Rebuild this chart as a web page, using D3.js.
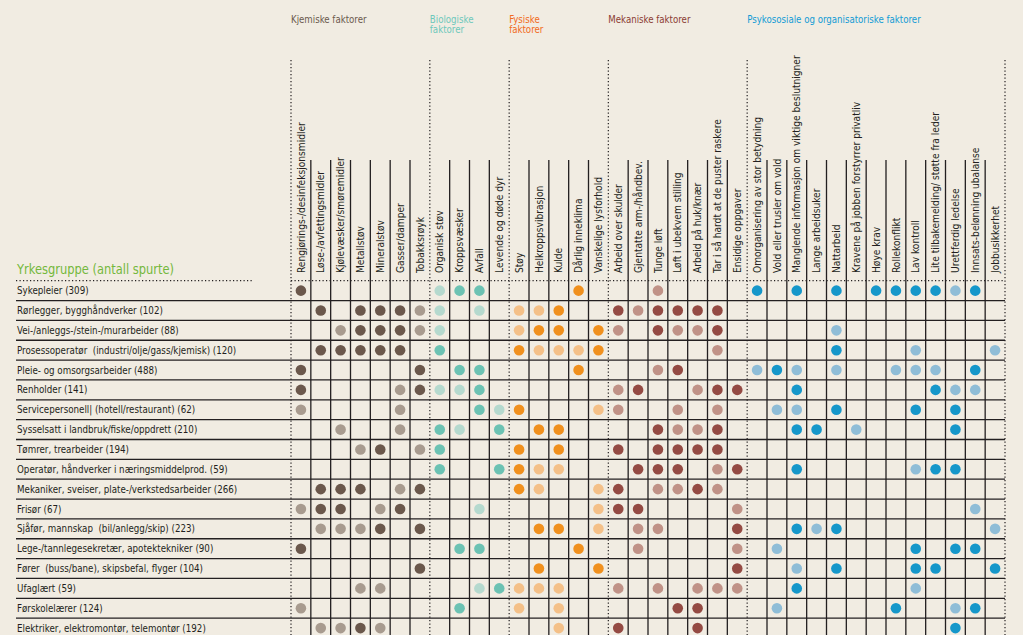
<!DOCTYPE html>
<html><head><meta charset="utf-8">
<script src="https://cdn.jsdelivr.net/npm/d3@7"></script>
<style>
body{margin:0;background:#f1ece2;}
svg{display:block;font-family:"Liberation Sans Narrow","DejaVu Sans Condensed","Noto Sans",sans-serif;}
</style>
</head><body>
<svg id="c" width="1023" height="635"></svg>
<script>
// ---------- DATA ----------
const occupations = [
  "Sykepleier (309)",
  "Rørlegger, bygghåndverker (102)",
  "Vei-/anleggs-/stein-/murarbeider (88)",
  "Prosessoperatør  (industri/olje/gass/kjemisk) (120)",
  "Pleie- og omsorgsarbeider (488)",
  "Renholder (141)",
  "Servicepersonell| (hotell/restaurant) (62)",
  "Sysselsatt i landbruk/fiske/oppdrett (210)",
  "Tømrer, trearbeider (194)",
  "Operatør, håndverker i næringsmiddelprod. (59)",
  "Mekaniker, sveiser, plate-/verkstedsarbeider (266)",
  "Frisør (67)",
  "Sjåfør, mannskap  (bil/anlegg/skip) (223)",
  "Lege-/tannlegesekretær, apotektekniker (90)",
  "Fører  (buss/bane), skipsbefal, flyger (104)",
  "Ufaglært (59)",
  "Førskolelærer (124)",
  "Elektriker, elektromontør, telemontør (192)"
];
const factors = [
  "Rengjørings-/desinfeksjonsmidler","Løse-/avfettingsmidler","Kjølevæsker/smøremidler","Metallstøv","Mineralstøv","Gasser/damper","Tobakksrøyk",
  "Organisk støv","Kroppsvæsker","Avfall","Levende og døde dyr",
  "Støy","Helkroppsvibrasjon","Kulde","Dårlig inneklima","Vanskelige lysforhold",
  "Arbeid over skulder","Gjentatte arm-/håndbev.","Tunge løft","Løft i ubekvem stilling","Arbeid på huk/knær","Tar i så hardt at de puster raskere","Ensidige oppgaver",
  "Omorganisering av stor betydning","Vold eller trusler om vold","Manglende informasjon om viktige beslutnigner","Lange arbeidsuker","Nattarbeid","Kravene på jobben forstyrrer privatliv","Høye krav","Rollekonflikt","Lav kontroll","Lite tilbakemelding/ støtte fra leder","Urettferdig ledelse","Innsats-belønning ubalanse","Jobbusikkerhet"
];
const groupNames = [["Kjemiske faktorer"],["Biologiske","faktorer"],["Fysiske","faktorer"],["Mekaniske faktorer"],["Psykososiale og organisatoriske faktorer"]];
const groupSizes = [7,4,5,7,13];
// level per cell: "." none, "1" lighter dot, "2" darker dot
const chemical = ["2......",".2.2221","..12221",".22222.","2.....2","2....12","1....1.","..1..1.","...12.1",".......",".222.12","122.12.",".1112.2","2......","......2","...11..","1......",".1121.."];
const biological = ["122.","1.1.","1...","2...",".22.","112.","..21","21.2","2...","2..2","....","..1.","....",".22.","....","..12",".2..","...."];
const physical = ["...2.","112..","122.2","21112","...2.",".....","2...1",".22..","2.2..","211..","21..1","....1",".22.1","...2.",".2..2","111..","1.1..","..1.."];
const mechanical = ["..1....","212222.","1.2112.",".....1.","..12...","12..122","1..1.1.","..2112.","2.2222.",".222.12","2.1121.","22....1",".11...2",".1....1","......2","1.1.111","...22..","2...2.."];
const psychosocial = ["2.2.2.222212.",".............","....1........","....2...1...1","121.1..111.2.","..2......211.",".11.2...2.2..","..22.1....2..",".............","..2.....122..",".............","...........1.","..212.......1",".1......2.22.","..1.2...22..2","..2.....1....",".1.....2..12.","..........2.."];

// ---------- STYLE ----------
const darkCol  = ["#6b584c","#6cc2b3","#f0901e","#944a43","#1597ca"];
const lightCol = ["#a89b8f","#b5d9ce","#f4c088","#c09287","#8fbdd7"];
const titleCol = ["#6b5a4e","#6dc8bb","#f26a21","#8b3c33","#129bd5"];
const ink = "#231f20";

const svg = d3.select("#c");
svg.append("rect").attr("width",1023).attr("height",635).attr("fill","#f1ece2");

const x = d3.scaleBand().domain(factors).range([291,1005]);
const y = d3.scaleBand().domain(occupations).range([280.7, 280.7+18*19.85]);
const bw = x.bandwidth(), bh = y.bandwidth();

const colGroup = [];
groupSizes.forEach((n,g)=>{for(let i=0;i<n;i++) colGroup.push(g);});
const groupStart = [0]; groupSizes.forEach((n,i)=>groupStart.push(groupStart[i]+n));

// horizontal lines
const yLines = d3.range(1,18).map(i=>y.range()[0]+i*y.step());
svg.append("g").selectAll("line").data(yLines).join("line")
  .attr("x1",16).attr("x2",1005).attr("y1",d=>d).attr("y2",d=>d)
  .attr("stroke",ink).attr("stroke-width",1.3);
[[16,252],[291,1005]].forEach(([a,b])=>{
  svg.append("line").attr("x1",a).attr("x2",b).attr("y1",280.7).attr("y2",280.7)
    .attr("stroke",ink).attr("stroke-width",1.2).attr("stroke-dasharray","1.2,2.3");
});

// vertical lines
const bounds = d3.range(0,37);
svg.append("g").selectAll("line").data(bounds).join("line")
  .attr("x1",k=>x.range()[0]+k*x.step()).attr("x2",k=>x.range()[0]+k*x.step())
  .attr("y1",k=>groupStart.includes(k)?60:160).attr("y2",635)
  .attr("stroke",ink)
  .attr("stroke-width",k=>groupStart.includes(k)?1.2:1.3)
  .attr("stroke-dasharray",k=>groupStart.includes(k)?"1.2,2.3":null);

// group titles
groupNames.forEach((lines,g)=>{
  const gx = x.range()[0]+groupStart[g]*x.step();
  const t = svg.append("text").attr("transform",`translate(${gx},22.5) scale(0.915,1)`)
    .attr("fill",titleCol[g]).attr("font-size","10.5px");
  lines.forEach((l,i)=>t.append("tspan").attr("x",0).attr("y",i*11).text(l));
});

// column labels
svg.append("g").selectAll("text").data(factors).join("text")
  .attr("transform",f=>`translate(${x(f)+bw/2+3.6},273) rotate(-90) scale(0.965,1)`)
  .attr("font-size","10.5px").attr("fill",ink).text(f=>f);

// title
svg.append("text").attr("transform","translate(17,274) scale(0.945,1)").attr("fill","#74b83c")
  .attr("font-size","13.5px").attr("font-weight",500).text("Yrkesgruppe (antall spurte)");

// row labels
svg.append("g").selectAll("text").data(occupations).join("text")
  .attr("transform",o=>`translate(17,${y(o)+bh/2+3.6}) scale(0.923,1)`)
  .style("white-space","pre")
  .attr("font-size","10.5px").attr("fill",ink).text(o=>o);

// dots
const cells = [];
occupations.forEach((o,r)=>{
  const s = chemical[r]+biological[r]+physical[r]+mechanical[r]+psychosocial[r];
  factors.forEach((f,c)=>{
    const lv = s[c];
    if(lv==="1"||lv==="2") cells.push({o,f,g:colGroup[c],lv:+lv});
  });
});
svg.append("g").selectAll("circle").data(cells).join("circle")
  .attr("cx",d=>x(d.f)+bw/2).attr("cy",d=>y(d.o)+bh/2).attr("r",5.3)
  .attr("fill",d=>d.lv===2?darkCol[d.g]:lightCol[d.g]);
</script>
</body></html>
